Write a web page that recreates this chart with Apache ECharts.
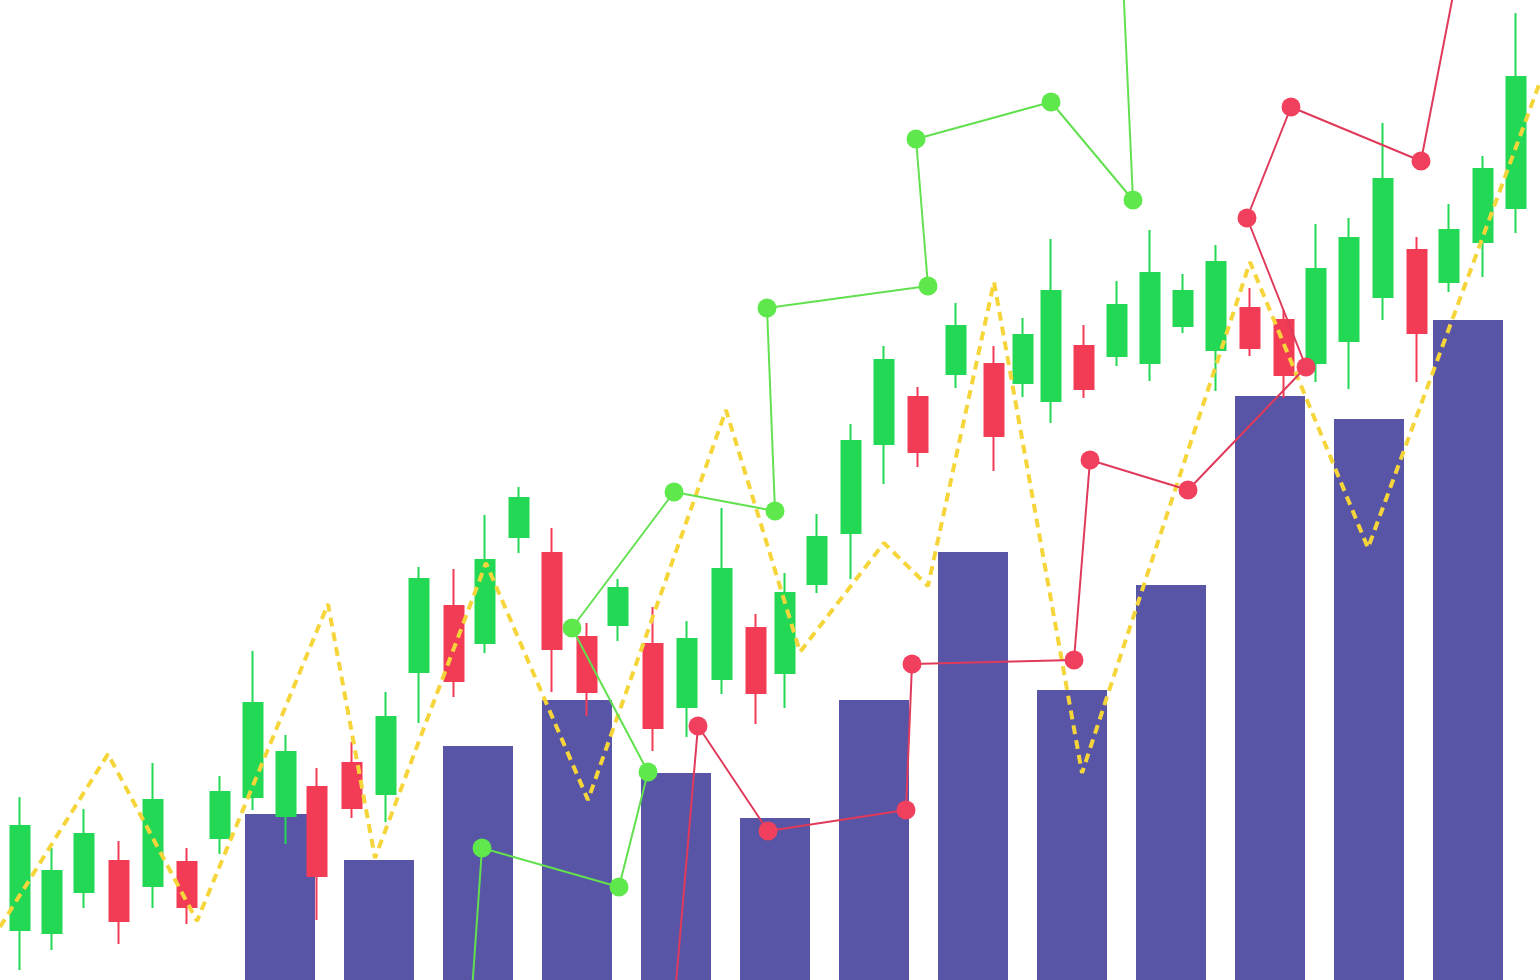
<!DOCTYPE html>
<html>
<head>
<meta charset="utf-8">
<script src="https://cdn.jsdelivr.net/npm/echarts@6/dist/echarts.min.js"></script>
<style>
html,body{margin:0;padding:0;background:#ffffff;}
#chart{width:1540px;height:980px;}
</style>
</head>
<body>
<div id="chart"></div>
<script>
// ---- data (time units on x, price units on y) ----
var candleTimes = [2.0,5.2,8.4,11.9,15.3,18.7,22.0,25.3,28.6,31.7,35.2,38.6,41.9,45.4,48.5,51.9,55.2,58.7,61.8,65.3,68.7,72.2,75.6,78.5,81.7,85.1,88.4,91.8,95.6,99.4,102.3,105.1,108.4,111.7,115.0,118.3,121.6,125.0,128.4,131.6,134.9,138.3,141.7,144.9,148.3,151.6];
var candleOpen  = [5.0,4.7,8.8,11.9,9.4,11.8,14.2,18.3,16.4,19.3,21.7,18.6,30.8,37.4,33.7,44.3,42.7,34.3,35.5,33.6,27.3,30.1,35.2,30.7,39.6,44.7,53.6,58.3,60.6,61.6,59.7,57.9,63.4,62.4,61.7,65.4,63.0,67.2,66.0,61.7,63.9,68.3,73.0,69.8,73.8,77.2];
var candleClose = [15.4,10.9,14.6,5.9,18.0,7.3,18.8,27.7,22.8,10.4,17.2,26.3,40.1,29.9,42.0,48.2,33.1,28.8,39.2,25.2,34.1,41.1,28.7,38.7,44.3,53.9,62.0,52.8,65.4,54.4,64.5,68.9,59.1,67.5,70.7,68.9,71.8,63.2,60.5,71.1,74.2,80.1,64.7,75.0,81.1,90.3];
var candleLow   = [1.0,3.0,7.2,3.6,7.2,5.6,12.6,17.0,13.6,6.0,16.2,15.8,25.7,28.3,32.7,42.7,28.8,26.4,33.9,22.9,24.3,28.6,25.6,27.2,38.7,40.1,49.6,51.3,59.2,50.9,58.3,55.7,58.2,61.4,59.9,64.7,58.9,62.4,58.2,59.8,59.1,66.0,59.8,68.8,70.3,74.7];
var candleHigh  = [18.3,13.2,17.1,13.9,21.7,13.2,20.4,32.9,24.5,21.2,23.8,28.8,41.3,41.1,46.5,49.3,45.2,35.7,40.1,37.3,35.9,47.2,36.6,40.7,46.6,55.6,63.4,59.3,67.7,63.4,66.2,74.1,65.5,69.9,75.0,70.6,73.5,69.2,67.0,75.6,76.2,85.7,74.3,77.6,82.4,96.7];

var barTimes  = [28.0,37.9,47.8,57.7,67.6,77.5,87.4,97.3,107.2,117.1,127.0,136.9,146.8];
var barValues = [16.6,12.0,23.4,28.0,20.7,16.2,28.0,42.8,29.0,39.5,58.4,56.1,66.0];

var yellowTimes  = [0,10.8,19.7,32.8,37.5,48.6,58.8,72.6,80.0,88.4,92.8,99.4,108.2,125.0,136.8,154.0];
var yellowValues = [5.3,22.6,5.9,37.6,12.2,41.7,18.0,57.0,32.8,43.7,39.4,69.8,20.7,71.8,43.2,89.8];

var greenTimes  = [47.0,48.2,61.9,64.8,57.2,67.4,77.5,76.7,92.8,91.6,105.1,113.3,112.3];
var greenValues = [-4.0,13.2,9.3,20.8,35.2,48.8,46.9,67.2,69.4,84.1,87.8,78.0,100.0];

var redTimes  = [67.2,69.8,76.8,90.6,91.2,107.4,109.0,118.8,130.6,124.7,129.1,142.1,145.6];
var redValues = [-5.0,25.4,14.9,17.0,31.6,32.0,52.0,49.0,61.3,76.2,87.3,81.9,100.0];

var X_MIN = 0, X_MAX = 154, Y_MIN = 0, Y_MAX = 98;

function pts(xs, ys) {
  return xs.map(function (x, i) {
    var y = ys[i];
    var item = { value: [x, y] };
    if (y < Y_MIN || y > Y_MAX) item.symbol = 'none';
    return item;
  });
}

var candleData = candleTimes.map(function (t, i) {
  return [t, candleOpen[i], candleClose[i], candleLow[i], candleHigh[i]];
});
var barData = barTimes.map(function (t, i) { return [t, barValues[i]]; });

var chart = echarts.init(document.getElementById('chart'), null, { renderer: 'canvas' });
chart.setOption({
  animation: false,
  backgroundColor: '#ffffff',
  grid: { left: 0, right: 0, top: 0, bottom: 0, containLabel: false },
  xAxis: { type: 'value', min: X_MIN, max: X_MAX, show: false },
  yAxis: { type: 'value', min: Y_MIN, max: Y_MAX, show: false },
  series: [
    {
      type: 'bar',
      data: barData,
      barWidth: 70,
      itemStyle: { color: '#5854a6' },
      z: 1
    },
    {
      type: 'candlestick',
      data: candleData,
      encode: { x: 0, y: [1, 2, 3, 4] },
      barWidth: 19,
      itemStyle: {
        color: '#22d854',
        color0: '#f23c55',
        borderColor: '#22d854',
        borderColor0: '#f23c55',
        borderWidth: 2
      },
      z: 2
    },
    {
      type: 'line',
      data: pts(yellowTimes, yellowValues),
      showSymbol: false,
      symbol: 'none',
      lineStyle: { color: '#f5d53a', width: 4, type: [9, 6] },
      z: 3
    },
    {
      type: 'line',
      data: pts(greenTimes, greenValues),
      symbol: 'circle',
      symbolSize: 19,
      itemStyle: { color: '#5ee84c' },
      lineStyle: { color: '#62e04f', width: 2 },
      z: 4
    },
    {
      type: 'line',
      data: pts(redTimes, redValues),
      symbol: 'circle',
      symbolSize: 19,
      itemStyle: { color: '#f0405e' },
      lineStyle: { color: '#e03a5a', width: 2 },
      z: 5
    }
  ]
});
</script>
</body>
</html>
